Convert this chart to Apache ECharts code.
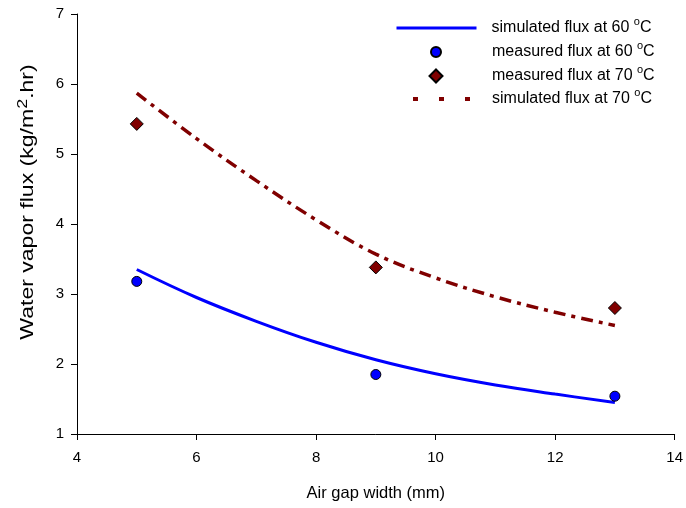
<!DOCTYPE html>
<html>
<head>
<meta charset="utf-8">
<script src="https://cdn.jsdelivr.net/npm/echarts@6/dist/echarts.min.js"></script>
<style>
  html, body { margin: 0; padding: 0; background: #fff; }
  #chart { width: 686px; height: 508px; }
</style>
</head>
<body>
<div id="chart"></div>
<script>
// ---- data ----
var gapWidth = [5, 6, 7, 8, 9, 10, 11, 12, 13];
var sim60 = [3.35, 2.95, 2.61, 2.31, 2.06, 1.86, 1.70, 1.57, 1.45];
var sim70 = [5.87, 5.22, 4.62, 4.06, 3.57, 3.23, 2.96, 2.74, 2.55];
var measGap = [5, 9, 13];
var meas60 = [3.18, 1.85, 1.54];
var meas70 = [5.43, 3.38, 2.80];
var seriesNames = ['simulated flux at 60', 'measured flux at 60', 'measured flux at 70', 'simulated flux at 70'];

function pairs(xs, ys) {
    return xs.map(function (x, i) { return [x, ys[i]]; });
}

var font = 'Arial, "Liberation Sans", sans-serif';

// one legend per row so line and marker icons can have their own widths
var legendRich = {
    t: { fontFamily: font, fontSize: 16, color: '#000', lineHeight: 28 },
    s: { fontFamily: font, fontSize: 11, color: '#000', lineHeight: 28, padding: [0, 0, 13, 0] }
};
function legendRow(item, left, top, w, h, pad) {
    return {
        orient: 'vertical',
        left: left,
        top: top,
        padding: 0,
        itemWidth: w,
        itemHeight: h,
        symbolKeepAspect: true,
        data: [item],
        formatter: function (name) {
            return '{t|' + name + ' }{s|o}{t|C}';
        },
        textStyle: { padding: [0, 0, 0, pad], rich: legendRich }
    };
}

var chart = echarts.init(document.getElementById('chart'));

var option = {
    backgroundColor: '#fff',
    animation: false,
    grid: { left: 77, right: 9, top: 14, bottom: 74 },
    // y axis title, drawn a bit stretched along its length like the original
    graphic: [{
        type: 'text',
        x: 28.5,
        y: 202,
        rotation: Math.PI / 2,
        scaleX: 1.28,
        style: {
            text: '{a|Water vapor flux (kg/m}{s|2}{a|.hr)}',
            align: 'center',
            verticalAlign: 'middle',
            rich: {
                a: { fontFamily: font, fontSize: 18, color: '#000' },
                s: { fontFamily: font, fontSize: 14, color: '#000', padding: [0, 0, 11, 0] }
            }
        }
    }],
    legend: [
        legendRow({ name: seriesNames[0], itemStyle: { opacity: 0 }, lineStyle: { width: 3 } }, 395, 16, 80, 12, 10),
        legendRow({ name: seriesNames[1], icon: 'circle' }, 430, 40, 10, 10, 46),
        legendRow({ name: seriesNames[2], icon: 'diamond' }, 428.5, 64, 13, 13, 44.5),
        legendRow({
            name: seriesNames[3],
            itemStyle: { opacity: 0 },
            lineStyle: { type: [5, 21], dashOffset: 10, width: 4 }
        }, 395, 87, 80, 12, 10)
    ],
    xAxis: {
        type: 'value',
        min: 4, max: 14, interval: 2,
        name: 'Air gap width (mm)',
        nameLocation: 'middle',
        nameGap: 51,
        nameTextStyle: { fontFamily: font, fontSize: 16.5, color: '#000' },
        splitLine: { show: false },
        axisLine: { lineStyle: { color: '#000', width: 1 } },
        axisTick: { lineStyle: { color: '#000' }, length: 6 },
        axisLabel: { fontFamily: font, fontSize: 15, color: '#000', margin: 16 }
    },
    yAxis: {
        type: 'value',
        min: 1, max: 7, interval: 1,
        splitLine: { show: false },
        axisLine: { show: true, lineStyle: { color: '#000', width: 1 } },
        axisTick: { show: true, lineStyle: { color: '#000' }, length: 6 },
        axisLabel: { fontFamily: font, fontSize: 15, color: '#000', margin: 13 }
    },
    series: [
        {
            name: seriesNames[0],
            type: 'line',
            smooth: 0.4,
            showSymbol: false,
            symbol: 'none',
            lineStyle: { color: '#0000ff', width: 3 },
            itemStyle: { color: '#0000ff' },
            data: pairs(gapWidth, sim60),
            z: 2
        },
        {
            name: seriesNames[1],
            type: 'scatter',
            symbol: 'circle',
            symbolSize: 10,
            itemStyle: { color: '#0000ff', borderColor: '#000', borderWidth: 1, opacity: 1 },
            data: pairs(measGap, meas60),
            z: 3
        },
        {
            name: seriesNames[2],
            type: 'scatter',
            symbol: 'diamond',
            symbolSize: [13, 13],
            itemStyle: { color: '#800000', borderColor: '#000', borderWidth: 1, opacity: 1 },
            data: pairs(measGap, meas70),
            z: 3
        },
        {
            name: seriesNames[3],
            type: 'line',
            smooth: 0.4,
            showSymbol: false,
            symbol: 'none',
            lineStyle: { color: '#800000', width: 3.5, type: [12, 6, 4, 6] },
            itemStyle: { color: '#800000' },
            data: pairs(gapWidth, sim70),
            z: 2
        }
    ]
};

chart.setOption(option);
</script>
</body>
</html>
